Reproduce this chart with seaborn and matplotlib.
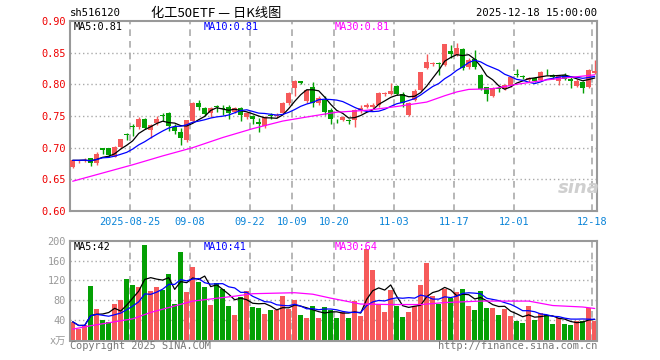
import numpy as np
import pandas as pd
import seaborn as sns
import matplotlib
matplotlib.use("Agg")
import matplotlib.pyplot as plt

# Constants
W, H, DPI = 660, 360, 100
RED = "#f65a5a"
GREEN = "#04a004"
GRID = "#aaaaaa"
FRAME = "#999999"
MONO = ["DejaVu Sans Mono", "Noto Sans CJK SC"]

# Daily candles, 2025-08-11 .. 2025-12-18
opens = [0.670, 0.679, 0.680, 0.683, 0.675, 0.699, 0.699, 0.686, 0.701, 0.722,
         0.735, 0.732, 0.746, 0.728, 0.739, 0.751, 0.754, 0.733, 0.724, 0.712,
         0.742, 0.771, 0.762, 0.754, 0.765, 0.763, 0.764, 0.756, 0.763, 0.749,
         0.750, 0.741, 0.735, 0.752, 0.750, 0.755, 0.771, 0.794, 0.805, 0.774,
         0.795, 0.770, 0.776, 0.760, 0.744, 0.744, 0.743, 0.744, 0.759, 0.764,
         0.764, 0.767, 0.784, 0.785, 0.797, 0.784, 0.751, 0.776, 0.791, 0.826,
         0.832, 0.834, 0.831, 0.852, 0.847, 0.856, 0.828, 0.840, 0.815, 0.795,
         0.782, 0.794, 0.793, 0.798, 0.816, 0.813, 0.807, 0.810, 0.807, 0.823,
         0.815, 0.805, 0.815, 0.809, 0.798, 0.803, 0.796, 0.818]
highs = [0.681, 0.681, 0.683, 0.684, 0.693, 0.700, 0.700, 0.702, 0.714, 0.723,
         0.738, 0.749, 0.747, 0.738, 0.750, 0.755, 0.756, 0.737, 0.731, 0.744,
         0.772, 0.775, 0.764, 0.765, 0.767, 0.768, 0.767, 0.764, 0.765, 0.757,
         0.752, 0.747, 0.750, 0.754, 0.754, 0.772, 0.788, 0.807, 0.806, 0.793,
         0.803, 0.781, 0.781, 0.762, 0.746, 0.750, 0.745, 0.761, 0.767, 0.771,
         0.770, 0.788, 0.788, 0.802, 0.799, 0.788, 0.772, 0.792, 0.820, 0.848,
         0.835, 0.835, 0.864, 0.862, 0.865, 0.858, 0.841, 0.854, 0.816, 0.796,
         0.796, 0.797, 0.801, 0.813, 0.825, 0.815, 0.812, 0.812, 0.821, 0.825,
         0.817, 0.815, 0.818, 0.811, 0.808, 0.805, 0.824, 0.838]
lows = [0.668, 0.676, 0.677, 0.671, 0.672, 0.690, 0.686, 0.685, 0.700, 0.712,
        0.718, 0.730, 0.730, 0.715, 0.736, 0.742, 0.727, 0.722, 0.705, 0.709,
        0.740, 0.760, 0.750, 0.748, 0.757, 0.752, 0.745, 0.754, 0.742, 0.746,
        0.738, 0.724, 0.731, 0.746, 0.747, 0.753, 0.767, 0.781, 0.801, 0.770,
        0.765, 0.768, 0.752, 0.738, 0.739, 0.742, 0.738, 0.733, 0.755, 0.762,
        0.762, 0.765, 0.782, 0.783, 0.783, 0.765, 0.750, 0.774, 0.789, 0.824,
        0.829, 0.814, 0.829, 0.842, 0.845, 0.822, 0.824, 0.825, 0.791, 0.774,
        0.780, 0.788, 0.791, 0.796, 0.812, 0.808, 0.804, 0.803, 0.805, 0.815,
        0.809, 0.799, 0.807, 0.795, 0.796, 0.786, 0.794, 0.816]
closes = [0.680, 0.680, 0.681, 0.676, 0.690, 0.697, 0.688, 0.701, 0.713, 0.720,
          0.732, 0.746, 0.731, 0.736, 0.746, 0.750, 0.735, 0.727, 0.716, 0.743,
          0.771, 0.764, 0.753, 0.763, 0.764, 0.761, 0.754, 0.762, 0.751, 0.755,
          0.745, 0.737, 0.748, 0.750, 0.752, 0.771, 0.787, 0.806, 0.802, 0.791,
          0.771, 0.779, 0.756, 0.745, 0.743, 0.748, 0.742, 0.759, 0.762, 0.768,
          0.767, 0.786, 0.786, 0.790, 0.785, 0.770, 0.771, 0.790, 0.819, 0.836,
          0.833, 0.832, 0.863, 0.848, 0.858, 0.826, 0.839, 0.827, 0.792, 0.784,
          0.794, 0.792, 0.799, 0.811, 0.814, 0.811, 0.810, 0.805, 0.819, 0.822,
          0.811, 0.813, 0.809, 0.805, 0.806, 0.795, 0.823, 0.821]
# volume in units of 10k
volumes = [36, 21, 29, 108, 62, 39, 36, 72, 80, 122,
           110, 107, 191, 98, 107, 100, 132, 72, 177, 96,
           148, 117, 106, 70, 114, 102, 68, 49, 87, 98,
           66, 63, 52, 60, 60, 88, 62, 80, 49, 43,
           68, 43, 66, 60, 44, 55, 44, 78, 48, 183,
           142, 73, 56, 100, 68, 46, 56, 68, 110, 155,
           88, 73, 103, 84, 97, 103, 68, 60, 98, 64,
           64, 49, 62, 48, 38, 34, 68, 39, 53, 49,
           31, 43, 31, 29, 37, 37, 64, 37]

# MA30 lines (candle index -> value)
ma30_idx = [0, 5, 10, 15, 20, 25, 30, 35, 40, 44, 49, 54, 59, 62, 64, 66, 70, 74, 79, 85, 87]
ma30_price = [0.647, 0.660, 0.673, 0.687, 0.700, 0.716, 0.730, 0.742, 0.750, 0.756, 0.759,
              0.765, 0.772, 0.782, 0.788, 0.792, 0.793, 0.800, 0.807, 0.813, 0.815]
vma30_idx = [0, 3, 10, 13, 20, 27, 30, 37, 40, 43, 48, 53, 58, 62, 68, 76, 80, 85, 87]
vma30_vol = [21, 28, 42, 55, 78, 88, 93, 95, 92, 84, 72, 71, 71, 75, 78, 78, 69, 66, 63]

tick_idx = [10, 20, 30, 37, 44, 54, 64, 74, 87]
tick_labels = ["2025-08-25", "09-08", "09-22", "10-09", "10-20", "11-03", "11-17", "12-01", "12-18"]
price_ticks = [0.60, 0.65, 0.70, 0.75, 0.80, 0.85, 0.90]
vol_ticks = [0, 40, 80, 120, 160, 200]
vol_tick_labels = ["x万", "40", "80", "120", "160", "200"]

sns.set_style("white")
plt.rcParams["font.family"] = MONO

df = pd.DataFrame({"open": opens, "high": highs, "low": lows, "close": closes, "vol": volumes})
df["x"] = np.arange(len(df))
df["ma5"] = df["close"].rolling(5, min_periods=1).mean()
df["ma10"] = df["close"].rolling(10, min_periods=1).mean()
df["vma5"] = df["vol"].rolling(5, min_periods=1).mean()
df["vma10"] = df["vol"].rolling(10, min_periods=1).mean()
colors = np.where(df["close"] >= df["open"], RED, GREEN)

fig = plt.figure(figsize=(W / DPI, H / DPI), dpi=DPI)
ax1 = fig.add_axes([70 / W, 1 - 211 / H, 527 / W, 190 / H])
ax2 = fig.add_axes([70 / W, 1 - 340.5 / H, 527 / W, 99.5 / H])
xlim = (-0.45, 87.38)
tick_pos = [i - 0.42 for i in tick_idx]


def px(x, y, s, **kw):
    fig.text(x / W, 1 - y / H, s, va="center", **kw)


# sina watermark, behind the candles
px(579, 188, "sina", color="#cfcfcf", fontsize=13, style="italic", weight="bold",
   family="DejaVu Sans", ha="center", zorder=0.5)
ax1.set_facecolor("none")
ax2.set_facecolor("none")

# price panel
for p in price_ticks[1:-1]:
    ax1.axhline(p, color=GRID, ls=(0, (1, 2)), lw=1, zorder=0)
for t in tick_pos:
    ax1.axvline(t, color=GRID, ls=(0, (4, 3)), lw=1.2, zorder=0)
ax1.vlines(df["x"], df["low"], df["high"], colors=colors, lw=1, zorder=2)
body = np.maximum((df["close"] - df["open"]).abs(), 0.0007)
ax1.bar(df["x"], body, bottom=np.minimum(df["open"], df["close"]), width=0.8,
        color=colors, linewidth=0, zorder=3)
sns.lineplot(x=df["x"], y=df["ma5"], ax=ax1, color="black", lw=0.9, zorder=4)
sns.lineplot(x=df["x"], y=df["ma10"], ax=ax1, color="#0000ff", lw=0.9, zorder=4)
sns.lineplot(x=ma30_idx, y=ma30_price, ax=ax1, color="#ff00ff", lw=0.9, zorder=4)
ax1.set_xlim(*xlim)
ax1.set_ylim(0.60, 0.90)
ax1.set_yticks(price_ticks)
ax1.set_yticklabels([f"{p:.2f}" for p in price_ticks], color="#ee0000", fontsize=7.4)
ax1.set_xticks(tick_pos)
ax1.set_xticklabels(tick_labels, color="#0a84d8", fontsize=7.4)
ax1.tick_params(length=0, pad=3)
ax1.tick_params(axis="x", pad=4)
ax1.set_xlabel("")
ax1.set_ylabel("")

# volume panel
for v in vol_ticks[1:-1]:
    ax2.axhline(v, color=GRID, ls=(0, (1, 2)), lw=1, zorder=0)
for t in tick_pos:
    ax2.axvline(t, color=GRID, ls=(0, (4, 3)), lw=1.2, zorder=0)
ax2.bar(df["x"], df["vol"], width=0.83, color=colors, linewidth=0, zorder=2)
sns.lineplot(x=df["x"], y=df["vma5"], ax=ax2, color="black", lw=0.9, zorder=4)
sns.lineplot(x=df["x"], y=df["vma10"], ax=ax2, color="#0000ff", lw=0.9, zorder=4)
sns.lineplot(x=vma30_idx, y=vma30_vol, ax=ax2, color="#ff00ff", lw=0.9, zorder=4)
ax2.set_xlim(*xlim)
ax2.set_ylim(-2, 200)
ax2.set_yticks(vol_ticks)
ax2.set_yticklabels(vol_tick_labels, color="#999999", fontsize=7.4)
ax2.set_xticks(tick_pos)
ax2.set_xticklabels([])
ax2.tick_params(length=0, pad=3)
ax2.set_xlabel("")
ax2.set_ylabel("")

for ax in (ax1, ax2):
    for s in ax.spines.values():
        s.set_color(FRAME)
        s.set_linewidth(1.5)

# labels
px(70, 13, "sh516120", fontsize=7.6, color="black")
px(216, 13, "化工50ETF — 日K线图", fontsize=9.5, color="black", ha="center",
   family=["Noto Sans CJK SC", "DejaVu Sans"])
px(597, 13, "2025-12-18 15:00:00", fontsize=7.6, color="black", ha="right")
px(74, 27, "MA5:0.81", fontsize=7.4, color="black")
px(204, 27, "MA10:0.81", fontsize=7.4, color="#0000ff")
px(335, 27, "MA30:0.81", fontsize=7.4, color="#ff00ff")
px(74, 247, "MA5:42", fontsize=7.4, color="black")
px(204, 247, "MA10:41", fontsize=7.4, color="#0000ff")
px(335, 247, "MA30:64", fontsize=7.4, color="#ff00ff")
px(70, 346, "Copyright 2025 SINA.COM", fontsize=7.4, color="#777777")
px(597, 346, "http://finance.sina.com.cn", fontsize=7.4, color="#777777", ha="right")

fig.savefig("out.png", dpi=DPI)
